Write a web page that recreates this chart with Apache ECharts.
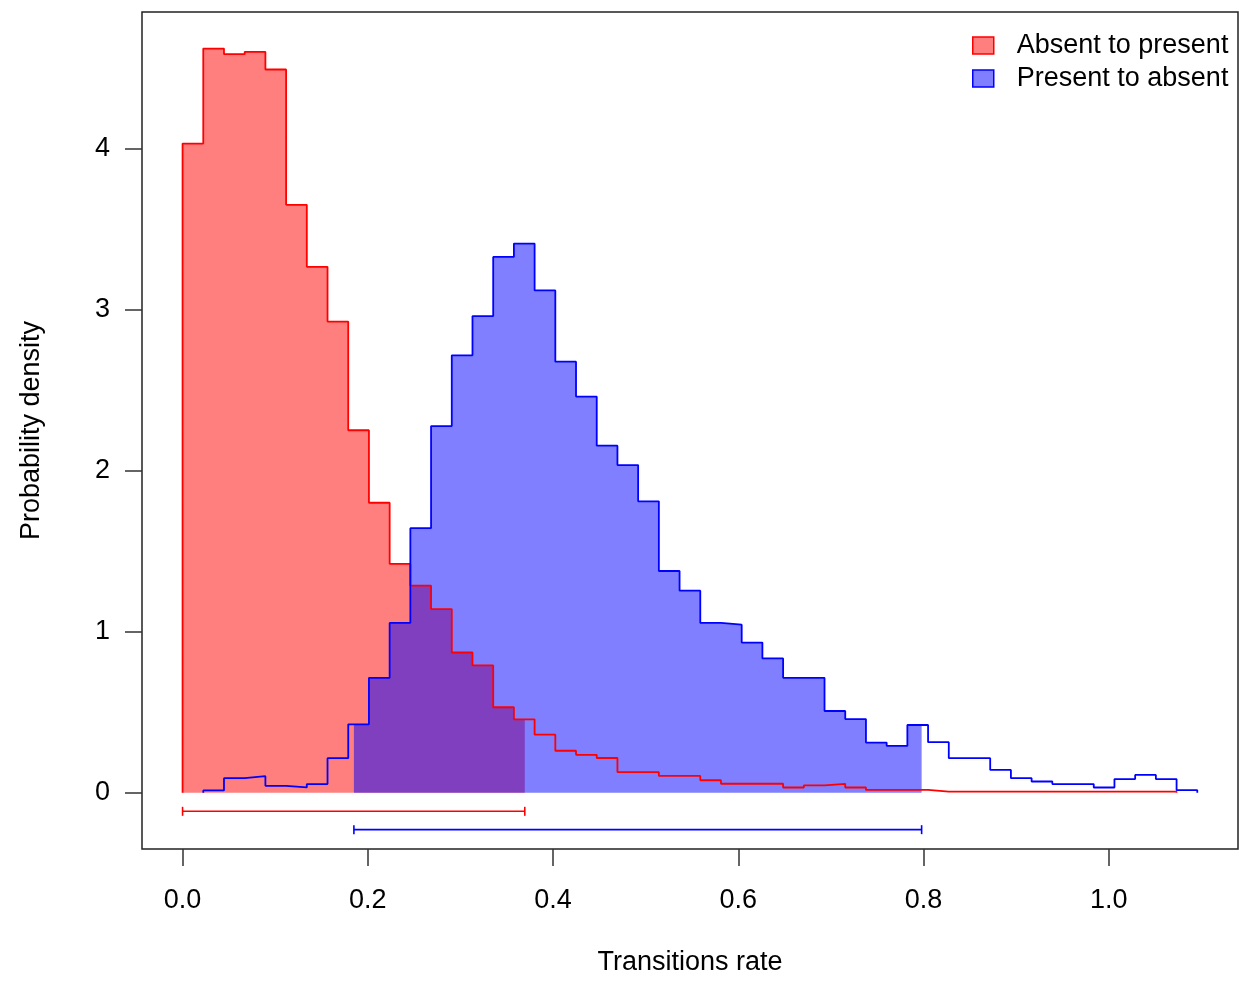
<!DOCTYPE html>
<html>
<head>
<meta charset="utf-8">
<script src="https://cdn.jsdelivr.net/npm/echarts@6/dist/echarts.min.js"></script>
<style>
    body { margin: 0; background: #fff; }
    #main { width: 1239px; height: 981px; }
</style>
</head>
<body>
<div id="main"></div>
<script>
// 直方图分箱宽度
const binWidth = 0.02236;
// Absent to present 的密度（从第0个分箱开始）
const redFirstBin = 0;
const redDensity = [
    4.03, 4.62, 4.585, 4.60, 4.49, 3.65, 3.265, 2.925, 2.25, 1.80,
    1.42, 1.285, 1.14, 0.87, 0.79, 0.53, 0.455, 0.36, 0.26, 0.235,
    0.215, 0.127, 0.127, 0.104, 0.104, 0.077, 0.055, 0.055, 0.055, 0.032,
    0.045, 0.055, 0.032, 0.017, 0.017, 0.017, 0.006, 0.006, 0.006, 0.006,
    0.006, 0.006, 0.006, 0.006, 0.006, 0.006, 0.006, 0.006
];
// Present to absent 的密度（从第1个分箱开始）
const blueFirstBin = 1;
const blueDensity = [
    0.014, 0.090, 0.102, 0.042, 0.032, 0.053, 0.214, 0.424, 0.713, 1.054,
    1.642, 2.276, 2.715, 2.959, 3.326, 3.409, 3.118, 2.676, 2.459, 2.154,
    2.034, 1.809, 1.376, 1.254, 1.054, 1.043, 0.932, 0.833, 0.713, 0.713,
    0.507, 0.457, 0.311, 0.290, 0.420, 0.313, 0.214, 0.214, 0.141, 0.090,
    0.069, 0.053, 0.053, 0.032, 0.084, 0.110, 0.084, 0.015
];
// 95% HPD 区间
const redHpd = [0, 0.3695];
const blueHpd = [0.185, 0.798];
// 坐标轴刻度
const xTicks = [0, 0.2, 0.4, 0.6, 0.8, 1.0];
const yTicks = [0, 1, 2, 3, 4];
const seriesNames = ['Absent to present', 'Present to absent'];

// 阶梯轮廓
function stepLine(vals, first){
    let pts = [[first * binWidth, 0]];
    vals.forEach((v, i) => {
        let a = (first + i) * binWidth;
        pts.push([a, v], [a + binWidth, v]);
    });
    pts.push([(first + vals.length) * binWidth, 0]);
    return pts;
}
// 区间内的填充
function stepFill(vals, first, lo, hi){
    let pts = [[lo, 0]];
    vals.forEach((v, i) => {
        let a = (first + i) * binWidth, b = a + binWidth;
        if(b <= lo || a >= hi) return;
        pts.push([Math.max(a, lo), v], [Math.min(b, hi), v]);
    });
    pts.push([hi, 0]);
    return pts;
}
// 区间横线
function hpdItem(params, api){
    let p1 = api.coord([api.value(0), api.value(2)]);
    let p2 = api.coord([api.value(1), api.value(2)]);
    let style = { stroke: api.visual('color'), lineWidth: 1.6 };
    return {
        type: 'group',
        children: [
            { type: 'line', shape: { x1: p1[0], y1: p1[1], x2: p2[0], y2: p2[1] }, style: style },
            { type: 'line', shape: { x1: p1[0], y1: p1[1] - 4.5, x2: p1[0], y2: p1[1] + 4.5 }, style: style },
            { type: 'line', shape: { x1: p2[0], y1: p2[1] - 4.5, x2: p2[0], y2: p2[1] + 4.5 }, style: style }
        ]
    };
}

let chart = echarts.init(document.getElementById('main'));
let font = 'Liberation Sans';
let option = {
    animation: false,
    backgroundColor: '#fff',
    textStyle: { fontFamily: font },
    grid: {
        left: 142, top: 12, width: 1096, height: 839,
        show: true, borderColor: '#222', borderWidth: 1.5
    },
    legend: {
        orient: 'vertical',
        left: 972, top: 32,
        padding: 0,
        itemWidth: 21, itemHeight: 17, itemGap: 6,
        icon: 'rect',
        selectedMode: false,
        textStyle: { fontSize: 27, color: '#000', lineHeight: 26, padding: [0, 0, 0, 18] },
        data: [
            { name: seriesNames[0], itemStyle: { color: 'rgba(255,0,0,0.5)', borderColor: '#ff0000', borderWidth: 1.5 } },
            { name: seriesNames[1], itemStyle: { color: 'rgba(0,0,255,0.5)', borderColor: '#0000ff', borderWidth: 1.5 } }
        ]
    },
    xAxis: {
        type: 'value',
        min: -0.0438, max: 1.1396,
        name: 'Transitions rate',
        nameLocation: 'middle',
        nameGap: 100,
        nameTextStyle: { fontSize: 27, color: '#000' },
        splitLine: { show: false },
        axisLine: { show: false, onZero: false },
        axisTick: { show: true, customValues: xTicks, length: 17, lineStyle: { color: '#333', width: 1.5 } },
        axisLabel: { customValues: xTicks, margin: 38, fontSize: 27, color: '#000', formatter: v => v.toFixed(1) }
    },
    yAxis: {
        type: 'value',
        min: -0.350, max: 4.847,
        name: 'Probability density',
        nameLocation: 'middle',
        nameGap: 97,
        nameTextStyle: { fontSize: 27, color: '#000' },
        splitLine: { show: false },
        axisLine: { show: false, onZero: false },
        axisTick: { show: true, customValues: yTicks, length: 17, lineStyle: { color: '#333', width: 1.5 } },
        axisLabel: { customValues: yTicks, margin: 32, fontSize: 27, color: '#000', formatter: v => String(v) }
    },
    series: [
        {
            name: seriesNames[0], type: 'line', symbol: 'none', silent: true,
            lineStyle: { width: 0 },
            itemStyle: { color: 'rgba(255,0,0,0.5)' },
            areaStyle: { color: 'rgba(255,0,0,0.5)', opacity: 1 },
            data: stepFill(redDensity, redFirstBin, redHpd[0], redHpd[1])
        },
        {
            name: seriesNames[1], type: 'line', symbol: 'none', silent: true,
            lineStyle: { width: 0 },
            itemStyle: { color: 'rgba(0,0,255,0.5)' },
            areaStyle: { color: 'rgba(0,0,255,0.5)', opacity: 1 },
            data: stepFill(blueDensity, blueFirstBin, blueHpd[0], blueHpd[1])
        },
        {
            name: 'red-outline', type: 'line', symbol: 'none', silent: true,
            lineStyle: { color: '#ff0000', width: 1.8 },
            data: stepLine(redDensity, redFirstBin)
        },
        {
            name: 'blue-outline', type: 'line', symbol: 'none', silent: true,
            lineStyle: { color: '#0000ff', width: 1.8 },
            data: stepLine(blueDensity, blueFirstBin)
        },
        {
            name: 'red-hpd', type: 'custom', silent: true,
            itemStyle: { color: '#ff0000' },
            renderItem: hpdItem,
            data: [[redHpd[0], redHpd[1], -0.116]]
        },
        {
            name: 'blue-hpd', type: 'custom', silent: true,
            itemStyle: { color: '#0000ff' },
            renderItem: hpdItem,
            data: [[blueHpd[0], blueHpd[1], -0.230]]
        }
    ]
};
chart.setOption(option);
</script>
</body>
</html>
